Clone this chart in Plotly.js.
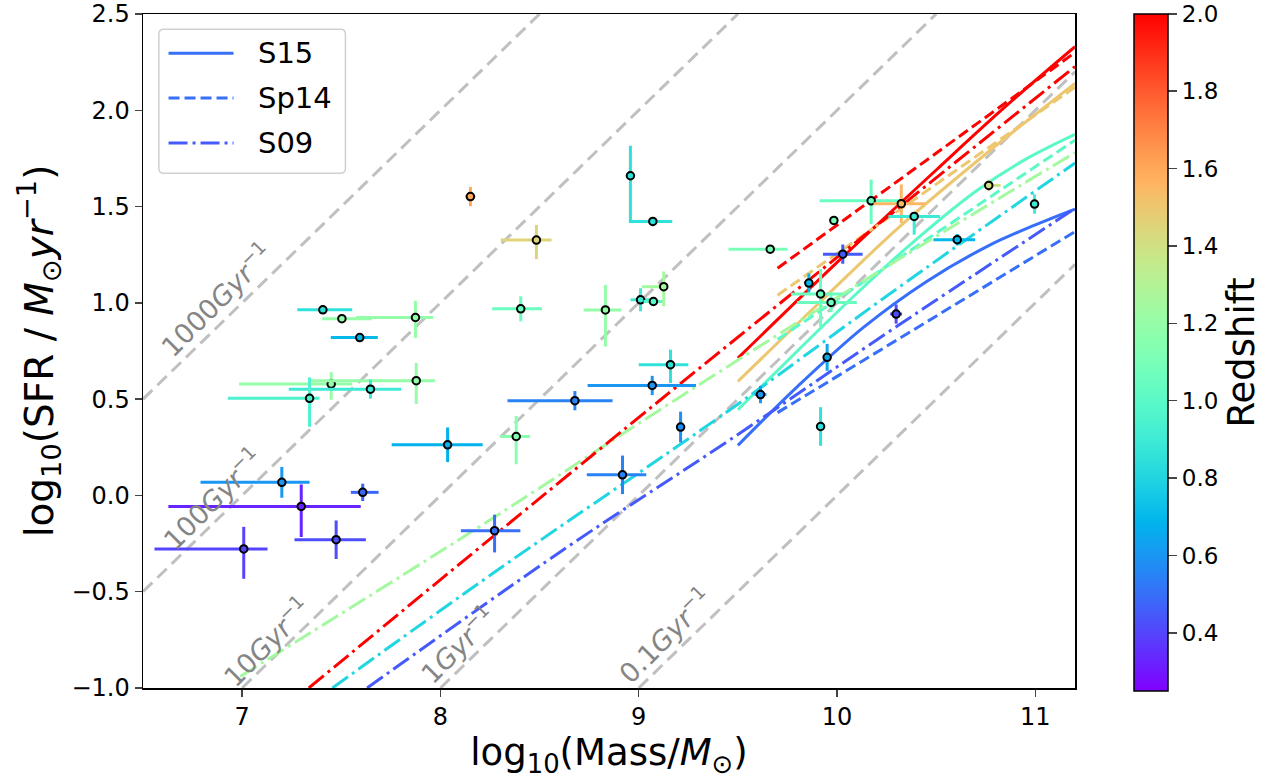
<!DOCTYPE html>
<html><head><meta charset="utf-8">
<script src="https://cdn.plot.ly/plotly-3.0.1.min.js"></script>
<style>body{margin:0;background:#fff}</style>
</head><body><div id="chart" style="width:1281px;height:781px"></div>
<script>
// ---------- observed galaxies ----------
const pointMass      = [8.151,8.484,7.407,7.503,7.874,7.593,7.449,7.878,7.647,7.340,8.036,7.200,7.298,7.474,7.008,7.608,8.958,9.071,8.405,8.832,9.009,9.074,9.126,9.663,9.160,9.068,8.678,8.382,9.211,8.918,8.273,9.614,9.984,10.172,10.324,10.389,10.606,10.765,10.996,10.029,9.858,9.917,9.970,10.298,9.950,9.917];
const pointMassErrLo = [0.025,0.180,0.129,0.100,0.300,0.146,0.464,0.533,0.412,0.412,0.282,0.410,0.670,0.210,0.450,0.060,0.020,0.121,0.144,0.110,0.050,0.050,0.110,0.210,0.160,0.326,0.340,0.080,0.010,0.180,0.170,0.030,0.020,0.260,0.140,0.130,0.120,0.020,0.010,0.100,0.020,0.150,0.172,0.030,0.010,0.010];
const pointMassErrHi = [0.025,0.076,0.148,0.150,0.090,0.091,0.106,0.094,0.155,0.050,0.177,0.140,0.300,0.150,0.120,0.080,0.020,0.098,0.107,0.080,0.050,0.050,0.020,0.085,0.090,0.221,0.190,0.070,0.010,0.120,0.130,0.030,0.020,0.150,0.120,0.130,0.090,0.060,0.010,0.100,0.020,0.110,0.130,0.030,0.010,0.010];
const pointSFR       = [1.552,1.326,0.964,0.918,0.924,0.820,0.578,0.596,0.552,0.504,0.263,0.068,-0.057,-0.230,-0.278,0.016,1.660,1.423,0.969,0.963,1.016,1.007,1.084,1.279,0.679,0.571,0.492,0.306,0.355,0.107,-0.183,0.524,1.428,1.530,1.515,1.449,1.328,1.610,1.513,1.253,1.103,1.046,1.002,0.942,0.717,0.358];
const pointSFRErrLo  = [0.050,0.099,0.020,0.020,0.106,0.020,0.081,0.121,0.050,0.148,0.090,0.080,0.159,0.100,0.155,0.045,0.237,0.020,0.065,0.190,0.060,0.020,0.102,0.020,0.095,0.050,0.050,0.144,0.080,0.100,0.113,0.045,0.020,0.120,0.100,0.095,0.030,0.030,0.050,0.050,0.050,0.170,0.050,0.050,0.070,0.100];
const pointSFRErrHi  = [0.050,0.079,0.020,0.020,0.087,0.020,0.062,0.092,0.050,0.109,0.090,0.080,0.114,0.100,0.115,0.045,0.156,0.020,0.065,0.130,0.060,0.020,0.079,0.020,0.078,0.050,0.050,0.107,0.080,0.100,0.083,0.045,0.020,0.110,0.100,0.020,0.030,0.030,0.050,0.050,0.050,0.130,0.050,0.050,0.070,0.100];
const pointRedshift  = [1.60,1.45,0.85,1.20,1.20,0.70,1.20,1.20,0.90,0.95,0.68,0.60,0.33,0.42,0.40,0.48,0.85,0.85,1.05,1.20,0.90,1.00,1.25,1.10,0.85,0.60,0.55,1.15,0.58,0.55,0.50,0.60,1.10,1.05,1.55,0.90,0.70,1.40,0.90,0.45,0.70,1.05,1.05,0.42,0.65,0.85];

// ---------- main-sequence relations ----------
// S15 (solid)
const s15Redshift = [0.5, 1.0, 1.5, 2.0];
const s15Mass = [
  [9.5, 9.8, 10.13, 10.45, 10.77, 11.0, 11.2],
  [9.5, 9.8, 10.1, 10.4, 10.7, 10.95, 11.2],
  [9.5, 9.9, 10.32, 10.77, 11.2],
  [9.5, 10.0, 10.5, 10.85, 11.2]
];
const s15SFR = [
  [0.26, 0.565, 0.87, 1.11, 1.30, 1.405, 1.487],
  [0.445, 0.75, 1.05, 1.33, 1.58, 1.745, 1.875],
  [0.592, 0.99, 1.40, 1.79, 2.14],
  [0.713, 1.21, 1.69, 2.02, 2.33]
];
// Sp14 (dashed)
const sp14Redshift = [0.5, 1.0, 1.5, 2.0];
const sp14Mass = [[9.7, 11.2],[9.7, 11.2],[9.7, 11.2],[9.7, 11.2]];
const sp14SFR  = [[0.43, 1.37],[0.81, 1.845],[1.04, 2.12],[1.18, 2.30]];
// S09 (dash-dot)
const s09Redshift = [0.45, 0.8, 1.25, 2.0];
const s09Mass = [
  [7.63, 8.62, 9.46, 10.30, 11.2],
  [7.455, 8.29, 9.46, 10.27, 11.2],
  [6.99, 8.17, 9.19, 10.27, 11.2],
  [7.336, 9.11, 11.2]
];
const s09SFR = [
  [-1.0, -0.282, 0.289, 0.877, 1.49],
  [-1.0, -0.386, 0.445, 1.05, 1.726],
  [-0.94, -0.18, 0.50, 1.20, 1.78],
  [-1.0, 0.497, 2.227]
];

// ---------- constant specific SFR lines ----------
const ssfrLabels = ["1000", "100", "10", "1", "0.1"];
const ssfrMass = [[6.5, 8.5],[6.5, 9.5],[7.0, 10.5],[8.0, 11.2],[9.0, 11.2]];
const ssfrSFR  = [[0.5, 2.5],[-0.5, 2.5],[-1.0, 2.5],[-1.0, 2.2],[-1.0, 1.2]];
const ssfrLabelMass = [6.868, 6.844, 7.118, 8.088, 9.130];
const ssfrLabelSFR  = [1.024, -0.014, -0.758, -0.771, -0.723];

const legendLabels = ["S15", "Sp14", "S09"];
const colorbarTicks = [0.4, 0.6, 0.8, 1.0, 1.2, 1.4, 1.6, 1.8, 2.0];

// ---------- colour map (matplotlib "rainbow") ----------
const zMin = 0.25, zMax = 2.0;
function rainbow(t){
  t = Math.max(0, Math.min(1, t));
  const r = Math.min(1, Math.abs(2*t - 0.5));
  const g = Math.max(0, Math.sin(Math.PI*t));
  const b = Math.max(0, Math.cos(Math.PI*t/2));
  return 'rgb(' + Math.round(r*255) + ',' + Math.round(g*255) + ',' + Math.round(b*255) + ')';
}
const zColor = z => rainbow((z - zMin)/(zMax - zMin));
const colorscale = [];
for (let i = 0; i <= 40; i++) colorscale.push([i/40, rainbow(i/40)]);

const FONT = 'DejaVu Sans, Liberation Sans, sans-serif';
const DASHES = {S15: 'solid', Sp14: '11px,5px', S09: '19px,5px,3px,5px'};
const traces = [];

// gray sSFR lines
ssfrMass.forEach((xs, i) => {
  traces.push({x: xs, y: ssfrSFR[i], mode: 'lines', showlegend: false, hoverinfo: 'skip',
    line: {color: '#c0c0c0', width: 3, dash: '13px,7px'}});
});

function addModel(massArr, sfrArr, zArr, name) {
  massArr.forEach((xs, i) => {
    traces.push({x: xs, y: sfrArr[i], mode: 'lines', name: name, showlegend: false,
      line: {color: zColor(zArr[i]), width: 3, dash: DASHES[name], shape: 'spline', smoothing: 1}});
  });
}
addModel(s15Mass, s15SFR, s15Redshift, 'S15');
addModel(sp14Mass, sp14SFR, sp14Redshift, 'Sp14');
addModel(s09Mass, s09SFR, s09Redshift, 'S09');

// points with error bars
pointMass.forEach((m, i) => {
  const c = zColor(pointRedshift[i]);
  traces.push({x: [m], y: [pointSFR[i]], mode: 'markers', showlegend: false,
    marker: {size: 7.5, color: c, line: {color: 'black', width: 2}},
    error_x: {type: 'data', symmetric: false, array: [pointMassErrHi[i]], arrayminus: [pointMassErrLo[i]], color: c, thickness: 3, width: 0},
    error_y: {type: 'data', symmetric: false, array: [pointSFRErrHi[i]], arrayminus: [pointSFRErrLo[i]], color: c, thickness: 3, width: 0}
  });
});

// colour bar
traces.push({x: [null], y: [null], mode: 'markers', showlegend: false, hoverinfo: 'skip',
  marker: {color: [zMin, zMax], cmin: zMin, cmax: zMax, colorscale: colorscale, showscale: true,
    colorbar: {x: 1.063, xanchor: 'left', xref: 'paper', xpad: 0, ypad: 0, y: 0.498, yanchor: 'middle', len: 677, lenmode: 'pixels',
      thickness: 34, outlinewidth: 1.5, outlinecolor: 'black', ticks: 'outside', ticklen: 9, tickwidth: 1.5,
      tickvals: colorbarTicks, tickformat: '.1f', tickprefix: '\u00a0', tickfont: {family: FONT, size: 23, color: 'black'},
      title: {text: 'Redshift', side: 'right', font: {family: FONT, size: 37, color: 'black'}}}}});

const annotations = ssfrLabels.map((lab, i) => ({
  x: ssfrLabelMass[i], y: ssfrLabelSFR[i], xref: 'x', yref: 'y', showarrow: false,
  text: lab + '<i>Gyr</i><sup>−1</sup>', textangle: -45,
  font: {family: FONT, size: 27, color: '#858585'}
}));

// legend (drawn as a framed box in the upper-left corner)
const legX0 = 0.017, legX1 = 0.2172, legY0 = 0.7638, legY1 = 0.9773, rx = 0.0054, ry = 0.0075;
const shapes = [{type: 'path', xref: 'paper', yref: 'paper', layer: 'above',
  path: `M${legX0+rx},${legY0} L${legX1-rx},${legY0} Q${legX1},${legY0} ${legX1},${legY0+ry} L${legX1},${legY1-ry} Q${legX1},${legY1} ${legX1-rx},${legY1} L${legX0+rx},${legY1} Q${legX0},${legY1} ${legX0},${legY1-ry} L${legX0},${legY0+ry} Q${legX0},${legY0} ${legX0+rx},${legY0} Z`,
  fillcolor: 'rgba(255,255,255,0.85)', line: {color: '#d0d0d0', width: 1.5}}];
const legRowY = [0.9417, 0.8754, 0.8087];
const legColors = [zColor(s15Redshift[0]), zColor(sp14Redshift[0]), zColor(s09Redshift[0])];
legendLabels.forEach((lab, i) => {
  shapes.push({type: 'line', xref: 'paper', yref: 'paper', layer: 'above',
    x0: 0.0274, x1: 0.0971, y0: legRowY[i], y1: legRowY[i],
    line: {color: legColors[i], width: 3, dash: DASHES[lab]}});
  annotations.push({x: 0.1215, y: legRowY[i], xref: 'paper', yref: 'paper', xanchor: 'left', yanchor: 'middle',
    showarrow: false, text: lab, font: {family: FONT, size: 29, color: 'black'}});
});

const layout = {
  width: 1281, height: 781,
  margin: {l: 142.5, r: 206.4, t: 14, b: 92.7},
  paper_bgcolor: 'white', plot_bgcolor: 'white',
  font: {family: FONT, color: 'black'},
  showlegend: false,
  xaxis: {range: [6.5, 11.2], tickvals: [7, 8, 9, 10, 11], ticks: 'outside', ticklen: 7, tickwidth: 1.5,
    showline: true, linewidth: 1.5, linecolor: 'black', mirror: true, showgrid: false, zeroline: false,
    tickfont: {family: FONT, size: 24, color: 'black'}, ticklabeloverflow: 'allow',
    title: {text: 'log<sub>10</sub>(Mass/<i>M</i><sub>⊙</sub>)', font: {family: FONT, size: 37, color: 'black'}, standoff: 4}},
  yaxis: {range: [-1.0, 2.5], tickvals: [-1.0, -0.5, 0.0, 0.5, 1.0, 1.5, 2.0, 2.5], tickformat: '.1f', ticks: 'outside', ticklen: 7, tickwidth: 1.5,
    showline: true, linewidth: 1.5, linecolor: 'black', mirror: true, showgrid: false, zeroline: false,
    tickfont: {family: FONT, size: 24, color: 'black'}, ticklabeloverflow: 'allow',
    title: {text: 'log<sub>10</sub>(SFR / <i>M</i><sub>⊙</sub><i>yr</i><sup>−1</sup>)', font: {family: FONT, size: 39, color: 'black'}, standoff: 6}},
  annotations: annotations,
  shapes: shapes
};

Plotly.newPlot('chart', traces, layout, {staticPlot: true, displayModeBar: false});
</script></body></html>
